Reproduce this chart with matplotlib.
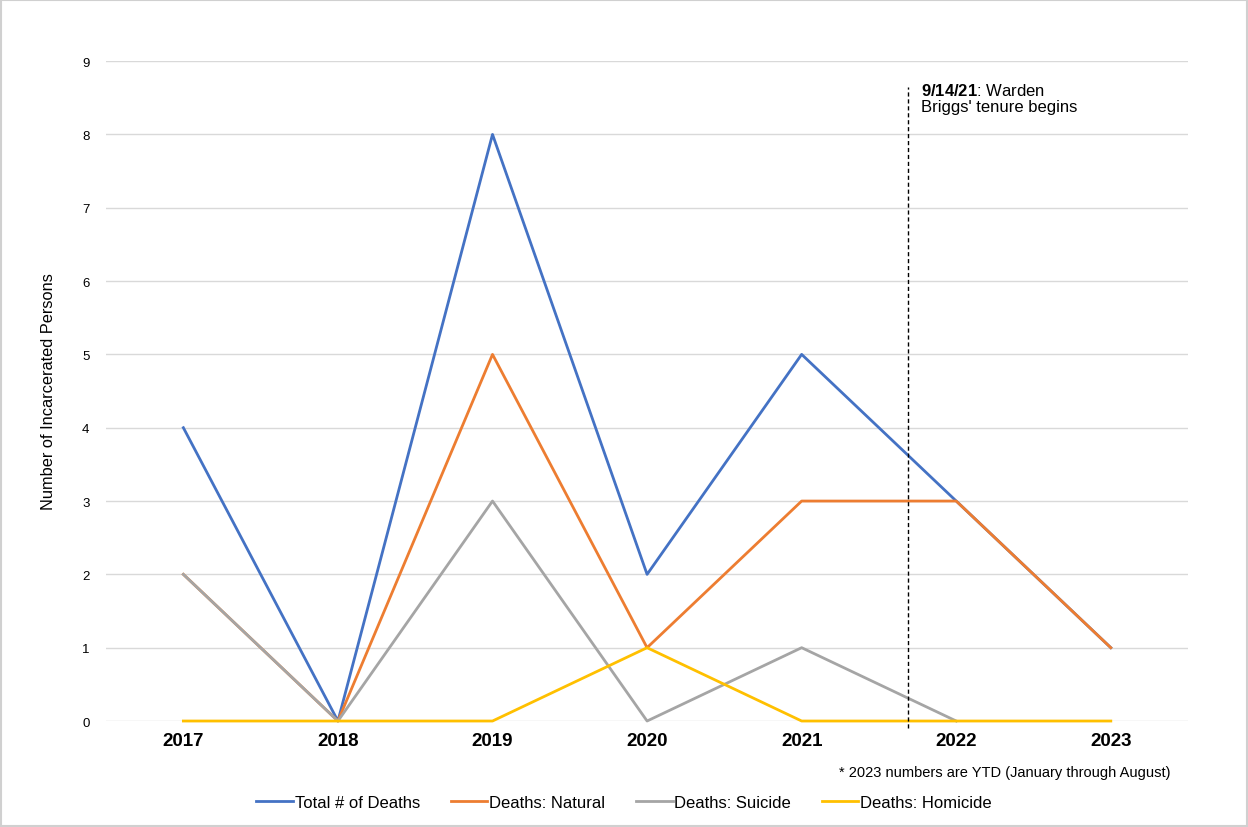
import matplotlib.pyplot as plt
import numpy as np

plt.rcParams['font.family'] = ['Liberation Sans', 'DejaVu Sans']
plt.rcParams['mathtext.fontset'] = 'custom'
plt.rcParams['mathtext.bf'] = 'Liberation Sans:bold'
plt.rcParams['mathtext.rm'] = 'Liberation Sans'

years = ['2017', '2018', '2019', '2020', '2021', '2022', '2023']
total = [4, 0, 8, 2, 5, 3, 1]
natural = [2, 0, 5, 1, 3, 3, 1]
suicide = [2, 0, 3, 0, 1, 0, np.nan]
homicide = [0, 0, 0, 1, 0, 0, 0]
yticks = list(range(10))
tenure_pos = 4.69  # 9/14/21 between 2021 and 2022

fig = plt.figure(figsize=(12.48, 8.28), dpi=100)
ax = fig.add_axes([0.085, 0.128, 0.867, 0.797])

x = np.arange(len(years))
ax.plot(x, total, color='#4472C4', lw=2.0, label='Total # of Deaths', clip_on=False)
ax.plot(x, natural, color='#ED7D31', lw=2.0, label='Deaths: Natural', clip_on=False)
ax.plot(x, suicide, color='#A5A5A5', lw=2.0, label='Deaths: Suicide', clip_on=False)
ax.plot(x, homicide, color='#FFC000', lw=2.0, label='Deaths: Homicide', clip_on=False)

ax.set_xlim(-0.5, len(years) - 0.5)
ax.set_ylim(0, 9)
ax.set_yticks(yticks)
ax.set_xticks(x)
ax.set_xticklabels(years, fontsize=13.5, fontweight='bold')
ax.tick_params(axis='y', labelsize=9.5, length=0, pad=12)
ax.tick_params(axis='x', length=0, pad=8)
ax.grid(axis='y', color='#d9d9d9', lw=1)
ax.set_axisbelow(True)
for s in ax.spines.values():
    s.set_visible(False)
ax.set_ylabel('Number of Incarcerated Persons', fontsize=11.8, labelpad=19)

# tenure marker
ax.plot([tenure_pos, tenure_pos], [-0.1, 8.65], color='black', lw=1,
        ls=(0, (3, 2)), clip_on=False)
ax.text(tenure_pos + 0.085, 8.72, r'$\mathbf{9/14/21}$: Warden' + '\nBriggs\' tenure begins',
        fontsize=12, va='top', ha='left', linespacing=1.15)

fig.text(0.938, 0.066, '* 2023 numbers are YTD (January through August)',
         fontsize=10.5, ha='right', va='center')

fig.legend(loc='center', bbox_to_anchor=(0.5, 0.03), ncol=4, frameon=False,
           fontsize=12, handlelength=2.2, handletextpad=0.1, columnspacing=1.85)

fig.patches.append(plt.Rectangle((0.001, 0.001), 0.998, 0.998, transform=fig.transFigure,
                                 fill=False, edgecolor='#d0d0d0', lw=1.5))

fig.savefig('out.png', dpi=100)
